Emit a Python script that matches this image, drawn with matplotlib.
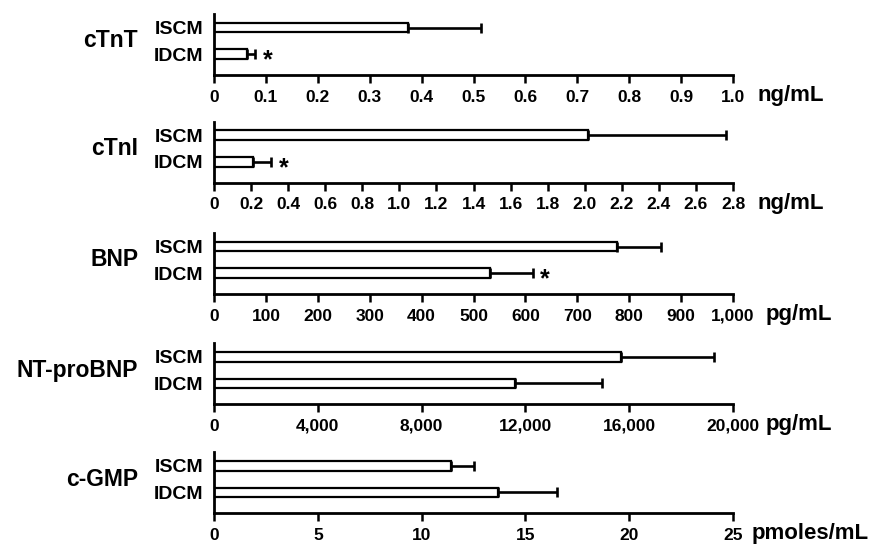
import matplotlib.pyplot as plt
from matplotlib.ticker import MultipleLocator, FuncFormatter

plt.rcParams['font.family'] = ['Liberation Sans', 'DejaVu Sans']
plt.rcParams['font.weight'] = 'bold'

# Dados
grupos = ['ISCM', 'IDCM']
marcadores = ['cTnT', 'cTnI', 'BNP', 'NT-proBNP', 'c-GMP']
unidades = ['ng/mL', 'ng/mL', 'pg/mL', 'pg/mL', 'pmoles/mL']
iscm_media = [0.373, 2.02, 776, 15690, 11.4]
iscm_erro = [0.142, 0.74, 86, 3560, 1.13]
idcm_media = [0.063, 0.21, 532, 11590, 13.7]
idcm_erro = [0.016, 0.097, 82, 3380, 2.8]
significativo = [True, True, True, False, False]
x_max = [1.0, 2.8, 1000, 20000, 25]
x_passo = [0.1, 0.2, 100, 4000, 5]


def fmt_decimal(v, pos):
    return '0' if abs(v) < 1e-9 else '%.1f' % v


def fmt_milhar(v, pos):
    return '{:,.0f}'.format(v)


def fmt_inteiro(v, pos):
    return '%d' % round(v)


formatos = [fmt_decimal, fmt_decimal, fmt_milhar, fmt_milhar, fmt_inteiro]

W, H = 872, 544
topos = [14, 121.7, 233, 343.3, 452.3]  # topo de cada painel (px)
altura = 61
esq, larg = 214, 519
desloc_unidade = [24, 24, 33, 33, 19]  # distancia (px) da unidade ao fim do eixo

fig = plt.figure(figsize=(W / 100, H / 100), dpi=100)

for i in range(len(marcadores)):
    ax = fig.add_axes([esq / W, 1 - (topos[i] + altura) / H, larg / W, altura / H])
    medias = [iscm_media[i], idcm_media[i]]
    erros = [[0, 0], [iscm_erro[i], idcm_erro[i]]]
    ax.barh([1, 0], medias, height=0.36, color='white', edgecolor='black',
            linewidth=1.6, xerr=erros,
            error_kw=dict(ecolor='black', elinewidth=1.9, capsize=3.5, capthick=1.9))

    ax.set_xlim(0, x_max[i])
    ax.set_ylim(-0.79, 1.51)
    for s in ['top', 'right']:
        ax.spines[s].set_visible(False)
    for s in ['left', 'bottom']:
        ax.spines[s].set_linewidth(2)

    ax.set_yticks([1, 0])
    ax.set_yticklabels(grupos, fontsize=14, fontweight='bold')
    ax.tick_params(axis='y', length=0, pad=8)
    ax.xaxis.set_major_locator(MultipleLocator(x_passo[i]))
    ax.xaxis.set_major_formatter(FuncFormatter(formatos[i]))
    ax.tick_params(axis='x', length=5.5, width=1.8, labelsize=12.5, pad=5)

    ax.text(-0.146, 0.5, marcadores[i], transform=ax.get_yaxis_transform(),
            ha='right', va='center', fontsize=16.5, fontweight='bold')
    ax.annotate(unidades[i], xy=(1, 0), xycoords='axes fraction',
                xytext=(desloc_unidade[i] * 0.72, -18.8), textcoords='offset points',
                ha='left', va='baseline', fontsize=16, fontweight='bold')

    if significativo[i]:
        ax.annotate('*', xy=(idcm_media[i] + idcm_erro[i], 0),
                    xytext=(5.5, -9.5), textcoords='offset points',
                    ha='left', va='baseline', fontsize=18, fontweight='bold')

plt.savefig('out.png', dpi=100)
